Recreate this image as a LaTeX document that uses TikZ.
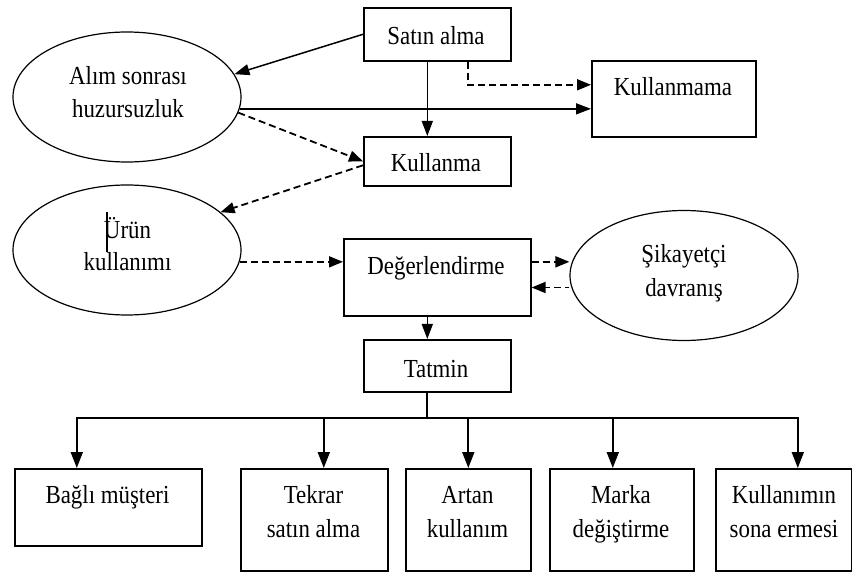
\documentclass[tikz,border=0pt]{standalone}
\usepackage{fontspec}
\setmainfont{Liberation Serif}[FakeStretch=0.88]
\usetikzlibrary{arrows.meta,shapes.geometric,calc}
\begin{document}
\begin{tikzpicture}[x=1pt,y=-1pt,
  box/.style={draw,line width=1.6pt,rectangle,inner sep=0pt,anchor=north west},
  oval/.style={draw,line width=1.2pt,ellipse,inner sep=0pt,minimum width=228pt,minimum height=130pt},
  lbl/.style={anchor=base,inner sep=0pt,font=\fontsize{26}{33}\selectfont},
  arr/.style={line width=1.5pt,-{Triangle[length=15pt,width=11pt]}},
  darr/.style={line width=1.8pt,dash pattern=on 7pt off 4pt,-{Triangle[length=14pt,width=11pt]}},
  barr/.style={line width=1.8pt,-{Triangle[length=16pt,width=12pt]}}]
\useasboundingbox (0,0) rectangle (852,572);
% boxes
\node[box,minimum width=147pt,minimum height=53pt] (sa) at (363,7) {};
\node[box,minimum width=147pt,minimum height=49pt] (ku) at (363,136) {};
\node[box,minimum width=164pt,minimum height=76pt] (km) at (591,60) {};
\node[box,minimum width=187pt,minimum height=77pt] (de) at (343,238) {};
\node[box,minimum width=147pt,minimum height=52pt] (ta) at (363,339) {};
\node[box,minimum width=187pt,minimum height=77pt] (b1) at (14,468) {};
\node[box,minimum width=147pt,minimum height=102pt] (b2) at (240,468) {};
\node[box,minimum width=125pt,minimum height=102pt] (b3) at (405,468) {};
\node[box,minimum width=144pt,minimum height=102pt] (b4) at (549,468) {};
\node[box,minimum width=136pt,minimum height=102pt] (b5) at (715,468) {};
% ellipses
\node[oval] (al) at (127,97) {};
\node[oval] (ur) at (127,250) {};
\node[oval] (sk) at (684,275.5) {};
% labels
\node[lbl] (tsa) at (436,45) {Satın alma};
\node[lbl] (tku) at (436,172) {Kullanma};
\node[lbl] (tkm) at (673,96) {Kullanmama};
\node[lbl] (tal1) at (128,85) {Alım sonrası};
\node[lbl] (tal2) at (128,118) {huzursuzluk};
\node[lbl] (tur1) at (127.5,239) {Ürün};
\node[lbl] (tur2) at (127.5,271) {kullanımı};
\node[lbl] (tde) at (436,275) {Değerlendirme};
\node[lbl] (tsk1) at (684,263) {Şikayetçi};
\node[lbl] (tsk2) at (684,297) {davranış};
\node[lbl] (tta) at (436,377) {Tatmin};
\node[lbl] (tb1) at (107.5,503) {Bağlı müşteri};
\node[lbl] (tb2a) at (313.5,503) {Tekrar};
\node[lbl] (tb2b) at (313.5,537) {satın alma};
\node[lbl] (tb3a) at (467.5,503) {Artan};
\node[lbl] (tb3b) at (467.5,537) {kullanım};
\node[lbl] (tb4a) at (621,503) {Marka};
\node[lbl] (tb4b) at (621,537) {değiştirme};
\node[lbl] (tb5a) at (784,503) {Kullanımın};
\node[lbl] (tb5b) at (784,537) {sona ermesi};
% cursor mark
\draw[line width=1.3pt] (107,212) -- (107,252);
% connectors
\draw[arr] (sa.west) -- (al.12);
\draw[arr] ([xshift=-10pt]sa.south) -- ([xshift=-10pt]ku.north);
\coordinate (d1) at ([xshift=31pt]sa.south);
\draw[darr] (d1) |- ([yshift=14pt]km.west);
\draw[arr] (al.-6) -- (al.-6 -| km.west);
\draw[darr] (al.-8) -- (ku.west);
\draw[darr] ([yshift=-4pt]ku.west) -- (ur.22);
\draw[darr] (ur.-6) -- (ur.-6 -| de.west);
\draw[darr] (de.east |- ur.-6) -- (sk.west |- ur.-6);
\draw[darr,dash phase=3pt] ([yshift=-12pt]sk.west) -- ([yshift=-12pt]sk.west -| de.east);
\draw[arr] ([xshift=-10pt]de.south) -- ([xshift=-10pt]ta.north);
\coordinate (j) at ([xshift=-10pt]ta.south);
\coordinate (bus) at ($(j)+(0,25)$);
\draw[line width=1.8pt] (j) -- (bus);
\draw[barr] (bus) -| ([xshift=-31.5pt]b1.north);
\draw[barr] (bus) -| ([xshift=14pt]b5.north);
\draw[barr] ([xshift=9.5pt]b2.north |- bus) -- ([xshift=9.5pt]b2.north);
\draw[barr] (b3.north |- bus) -- (b3.north);
\draw[barr] ([xshift=-9pt]b4.north |- bus) -- ([xshift=-9pt]b4.north);
\end{tikzpicture}
\end{document}
